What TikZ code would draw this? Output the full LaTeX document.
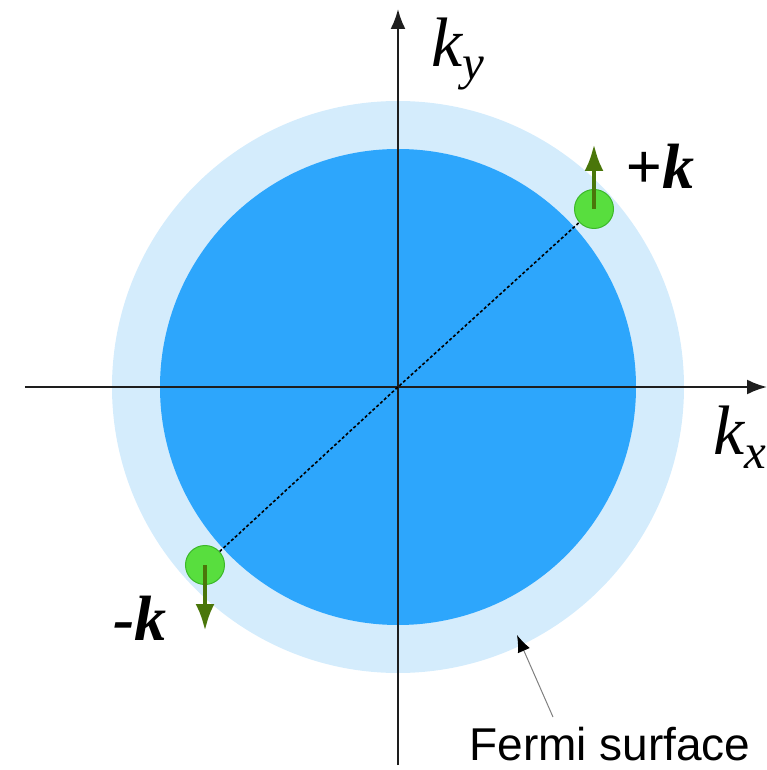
\documentclass[tikz,border=0pt]{standalone}
\usepackage{fontspec}
\usepackage{xcolor}
\usepackage{tikz}
\usetikzlibrary{arrows.meta, positioning}
\setmainfont{Liberation Serif}
\newfontfamily\labelfont{Liberation Sans}
\definecolor{fermidark}{RGB}{45, 166, 252}
\definecolor{fermilight}{RGB}{212, 236, 252}
\definecolor{pairgreen}{RGB}{88, 222, 62}
\definecolor{pairedge}{RGB}{60, 184, 42}
\definecolor{spinarrow}{RGB}{74, 118, 10}
\definecolor{axisgray}{RGB}{30, 30, 30}

\begin{document}
\begin{tikzpicture}[x=1pt, y=1pt,
    axisline/.style={line width=2.2pt, axisgray, -{Latex[length=20pt, width=15pt]}},
    electron/.style={circle, fill=pairgreen, draw=pairedge, line width=1pt, minimum size=39pt, inner sep=0pt},
    spin/.style={line width=4.5pt, spinarrow, -{Latex[length=27pt, width=19pt]}},
    bigk/.style={font=\fontsize{64}{66}\selectfont\bfseries\itshape}]
    \useasboundingbox (-398,-383) rectangle (369,387);

    % Fermi sea
    \fill[fermilight] (0,0) circle (286);
    \fill[fermidark] (0,0) circle (238);

    % Axes
    \coordinate (O) at (0,0);
    \coordinate (xmin) at (-373,0);
    \coordinate (xmax) at (369,0);
    \coordinate (ymin) at (0,-378);
    \coordinate (ymax) at (0,378);
    \draw[axisline] (xmin) -- (xmax);
    \draw[axisline] (ymin) -- (ymax);
    \node (kx) at (342,-50) {\fontsize{70}{72}\selectfont\itshape k\textsubscript{x}};
    \node (ky) at (60,333) {\fontsize{70}{72}\selectfont\itshape k\textsubscript{y}};

    % Cooper pair
    \node[electron] (kplus) at (196,178) {};
    \node[electron] (kminus) at (-193,-178) {};
    \draw[line width=1.6pt, black, dash pattern=on 3pt off 2.2pt] (kminus) -- (O) -- (kplus);
    \coordinate (upspin) at (196,243);
    \coordinate (downspin) at (-193,-244);
    \draw[spin] (kplus.center) -- (upspin);
    \draw[spin] (kminus.center) -- (downspin);
    \node[bigk] (pluslabel) at (262,221) {+k};
    \node[bigk] (minuslabel) at (-258,-231) {-k};

    % Fermi surface note
    \node (fermi) at (212,-357) {\labelfont\fontsize{46}{48}\selectfont Fermi surface};
    \coordinate (notetail) at (155,-330);
    \coordinate (surface) at (119,-248);
    \draw[line width=1pt, gray, -{Latex[length=17pt, width=13pt, black]}] (notetail) -- (surface);
\end{tikzpicture}
\end{document}
